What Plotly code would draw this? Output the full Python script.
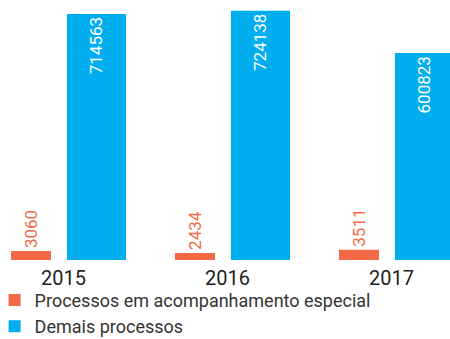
import plotly.graph_objects as go

# Data
years = ["2015", "2016", "2017"]
especial = [3060, 2434, 3511]
demais = [714563, 724138, 600823]
series_names = ["Processos em acompanhamento especial", "Demais processos"]

ORANGE = "rgb(242,105,70)"
BLUE = "rgb(0,174,239)"
FONT = "Roboto, sans-serif"

fig = go.Figure()

# Small series on its own (secondary) scale so the bars stay visible
fig.add_trace(go.Bar(
    x=years, y=especial, name=series_names[0], yaxis="y2",
    marker=dict(color=ORANGE, line=dict(width=0)),
    offset=-0.320, width=0.244,
    text=[str(v) for v in especial], textposition="outside", textangle=-90,
    constraintext="none",
    textfont=dict(color=ORANGE, size=17, family=FONT),
    cliponaxis=False,
))

fig.add_trace(go.Bar(
    x=years, y=demais, name=series_names[1], yaxis="y",
    marker=dict(color=BLUE, line=dict(width=0)),
    offset=0.0213, width=0.360,
    text=[str(v) for v in demais], textposition="inside", textangle=-90,
    insidetextanchor="end", constraintext="none",
    textfont=dict(color="white", size=17, family=FONT),
    cliponaxis=False,
))

fig.update_layout(
    width=450, height=339,
    margin=dict(l=0, r=0, t=5, b=79, autoexpand=False),
    paper_bgcolor="white", plot_bgcolor="white",
    barmode="overlay",
    font=dict(family=FONT, color="#333333"),
    xaxis=dict(type="category", range=[-0.387, 2.357], showgrid=False,
               showline=False, zeroline=False, ticks="", ticklabelstandoff=4,
               tickfont=dict(size=20, color="#222222", family=FONT)),
    yaxis=dict(range=[0, 740520], visible=False, showgrid=False),
    yaxis2=dict(range=[0, 87210], overlaying="y", visible=False, showgrid=False),
    legend=dict(x=-0.012, y=-0.085, xanchor="left", yanchor="top",
                orientation="v", traceorder="normal",
                font=dict(size=18, color="#333333", family=FONT),
                bgcolor="rgba(0,0,0,0)", borderwidth=0, tracegroupgap=0),
    showlegend=True,
)

fig.write_html("out.html")
